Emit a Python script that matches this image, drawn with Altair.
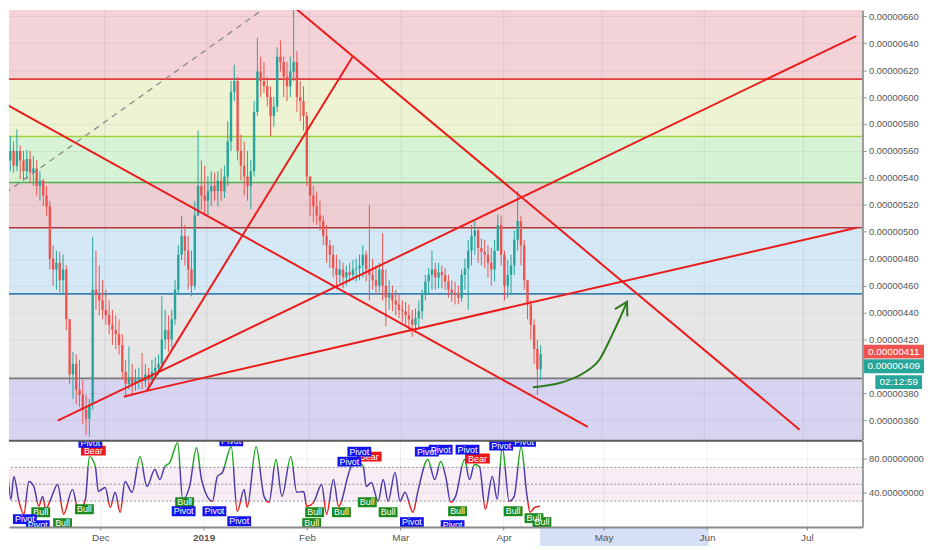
import altair as alt
import pandas as pd

START = pd.Timestamp("2018-11-01", tz="UTC")


def t_iso(d):
    return (START + pd.to_timedelta(d, unit="D")).strftime("%Y-%m-%dT%H:%M:%SZ")


def t_ms(d):
    return int((START + pd.to_timedelta(d, unit="D")).value // 10**6)


# ---------------- data (prices in 1e-8 units, days counted from 2018-11-01) ----------------
candle_high = [567, 571, 567, 576, 564, 560, 561, 560, 556, 553,
               545, 539, 534, 523, 490, 486, 485, 483, 475, 435,
               411, 409, 405, 390, 379, 376, 496, 486, 475, 464,
               457, 449, 442, 438, 435, 424, 405, 415, 402, 398,
               399, 410, 402, 399, 405, 407, 409, 452, 442, 438,
               442, 464, 490, 512, 505, 497, 486, 523, 575, 553,
               549, 541, 545, 544, 545, 547, 549, 582, 612, 624,
               615, 572, 567, 560, 553, 597, 644, 630, 626, 615,
               608, 600, 637, 642, 630, 626, 630, 667, 634, 612,
               608, 589, 541, 534, 530, 523, 512, 505, 494, 490,
               483, 479, 477, 475, 477, 479, 480, 483, 490, 486,
               520, 480, 475, 477, 499, 472, 464, 460, 457, 453,
               449, 448, 446, 442, 443, 449, 457, 468, 473, 486,
               477, 477, 475, 473, 468, 464, 463, 460, 472, 480,
               494, 505, 508, 502, 495, 494, 490, 488, 494, 513,
               512, 486, 479, 483, 501, 530, 512, 494, 464, 449,
               435, 420, 416]
candle_low = [541, 545, 544, 545, 539, 538, 539, 536, 534, 527,
              523, 519, 512, 472, 460, 457, 455, 453, 427, 387,
              376, 372, 370, 357, 349, 348, 368, 442, 438, 435,
              431, 424, 416, 413, 409, 390, 378, 383, 379, 382,
              383, 383, 385, 383, 387, 392, 394, 396, 413, 411,
              414, 431, 453, 479, 475, 457, 452, 457, 512, 516,
              512, 512, 519, 523, 519, 523, 525, 534, 560, 597,
              553, 538, 527, 523, 517, 541, 586, 600, 603, 593,
              571, 578, 589, 619, 600, 597, 600, 612, 589, 582,
              575, 534, 512, 507, 505, 501, 490, 477, 473, 466,
              460, 462, 458, 460, 463, 464, 463, 464, 466, 463,
              449, 457, 453, 455, 449, 430, 442, 441, 438, 436,
              433, 431, 427, 422, 425, 429, 435, 449, 453, 457,
              457, 458, 458, 457, 451, 448, 446, 446, 448, 457,
              442, 475, 483, 477, 475, 473, 466, 460, 463, 486,
              475, 449, 451, 453, 468, 486, 475, 457, 435, 420,
              402, 379, 390]
candle_close = [553, 560, 549, 560, 553, 545, 554, 544, 547, 534,
                538, 527, 519, 480, 472, 477, 464, 472, 435, 394,
                402, 383, 379, 368, 361, 372, 457, 453, 449, 442,
                438, 431, 427, 424, 416, 396, 387, 392, 387, 390,
                392, 389, 394, 390, 396, 399, 402, 420, 427, 420,
                435, 457, 483, 497, 486, 472, 460, 512, 534, 527,
                523, 530, 534, 530, 538, 530, 541, 567, 604, 612,
                560, 549, 541, 534, 545, 589, 619, 612, 608, 600,
                586, 593, 630, 626, 615, 608, 619, 626, 600, 597,
                586, 541, 527, 519, 512, 508, 497, 490, 483, 473,
                468, 472, 466, 470, 468, 472, 473, 475, 483, 472,
                468, 464, 460, 472, 460, 451, 453, 449, 446, 442,
                441, 438, 435, 431, 436, 441, 453, 463, 468, 472,
                466, 470, 468, 463, 457, 455, 453, 451, 468, 473,
                486, 497, 501, 488, 485, 483, 477, 472, 486, 505,
                483, 460, 468, 475, 494, 508, 490, 464, 446, 431,
                413, 398, 409]
first_open = 548

fib_levels = [613.3, 570.7, 536.6, 503.0, 453.9, 391.2]
fib_colors = ["#e03a3a", "#a4cf3c", "#4cae4c", "#b03838", "#3a80b4", "#7b7b7b"]
band_edges = [700, 613.3, 570.7, 536.6, 503.0, 453.9, 391.2, 300]
band_colors = ["#f3d3d7", "#eef3d4", "#d7f3d6", "#ecced3", "#d4e8f5", "#e6e6e6", "#d7d4f1"]

trend_id = ["a", "a", "b", "b", "c", "c", "d", "d", "e", "e", "f", "f"]
trend_day = [-5.73, 176.8, 86.78, 241.1, 42.9, 105.4, 35.95, 42.9, 42.9, 258.4, 15.9, 258.3]
trend_price = [602.7, 355.1, 668.5, 353.1, 381.9, 630.0, 377.5, 381.9, 381.9, 503.0, 359.8, 645.3]

dash_day = [-2.75, 79.6]
dash_price = [524.1, 667.6]

arrow_day = [160.12, 169.05, 175.9, 180.36, 183.94, 186.6, 188.7]
arrow_price = [384.6, 388.3, 395.7, 405.2, 422.2, 436.2, 448.0]
head_day = [185.04, 188.7, 188.8]
head_price = [442.6, 448.0, 437.2]

marker_price = 411
last_close = 409
timer_text = "02:12:59"

rsi_day = [0.22, 1.71, 3.20, 4.09, 5.58, 7.07, 8.56, 10.05, 11.54, 12.73,
           13.62, 15.11, 17.2, 18.98, 21.66, 23.45, 25.53, 26.72, 28.51, 29.40,
           31.49, 32.98, 34.47, 35.95, 37.44, 39.53, 41.91, 43.99, 46.37, 47.86,
           49.35, 50.84, 53.22, 54.71, 56.80, 58.88, 60.37, 63.64, 65.13, 66.62,
           69.30, 71.09, 73.17, 74.07, 76.75, 79.13, 80.62, 82.70, 84.49, 87.17,
           88.95, 91.04, 91.93, 94.02, 96.40, 97.89, 99.97, 101.46, 105.33, 107.42,
           108.90, 109.80, 111.29, 113.37, 114.86, 116.35, 118.43, 119.92, 121.41, 123.79,
           125.28, 128.26, 130.34, 132.13, 133.62, 135.11, 136.60, 139.28, 140.77, 142.26,
           143.75, 145.53, 147.61, 149.10, 150.59, 152.68, 154.17, 156.25, 158.04, 158.93,
           160.42, 161.91]
rsi_val = [55.6, 75.6, 32.1, 59.2, 29.8, 14.5, 53.3, 47.4, 23.9, 35.6,
           20.4, 32.1, 49.8, 14.5, 43.9, 18.0, 32.1, 82.7, 70.9, 41.5,
           46.2, 22.7, 40.4, 16.8, 53.3, 40.4, 82.7, 47.4, 67.4, 55.6,
           70.9, 75.6, 99.2, 32.1, 47.4, 93.3, 55.6, 29.8, 59.2, 63.9,
           94.5, 18.0, 43.9, 22.7, 94.5, 35.6, 28.6, 79.2, 35.6, 82.7,
           40.4, 41.5, 23.9, 28.6, 49.8, 14.5, 55.6, 23.9, 70.9, 75.6,
           70.9, 47.4, 52.1, 29.8, 55.6, 29.8, 63.9, 29.8, 40.4, 16.8,
           41.5, 79.2, 55.6, 76.8, 59.2, 28.6, 35.6, 79.2, 55.6, 73.3,
           70.9, 20.4, 59.2, 32.1, 94.5, 29.8, 35.6, 94.5, 35.6, 16.8,
           22.7, 23.9]

lab_kind = ["Pivot", "Pivot", "Bull", "Bull", "Bull", "Pivot", "Bear", "Bull", "Pivot", "Pivot",
            "Pivot", "Pivot", "Bull", "Bull", "Bull", "Bear", "Pivot", "Pivot", "Bull", "Bull",
            "Pivot", "Pivot", "Pivot", "Pivot", "Bear", "Bull", "Pivot", "Pivot", "Pivot", "Bull",
            "Bull", "Bull"]
lab_day = [7.37, 11.24, 12.13, 18.68, 25.23, 27.02, 27.91, 55.31, 55.01, 64.24,
           69.30, 71.68, 94.31, 93.42, 102.35, 110.69, 107.71, 104.73, 110.10, 116.35,
           123.49, 127.96, 132.13, 140.17, 143.15, 137.19, 135.70, 150.29, 157.14, 153.86,
           160.12, 162.50]
lab_val = [8.6, 1.5, 16.8, 3.9, 20.4, 99.2, 89.8, 28.6, 18.0, 18.0,
           101.0, 6.2, 16.8, 3.9, 16.8, 82.7, 88.6, 76.8, 28.6, 16.8,
           5.1, 88.6, 91.0, 91.0, 80.4, 18.0, 1.5, 95.7, 100.4, 18.0,
           9.8, 5.1]

month_ticks = ["2018-12-01", "2019-01-01", "2019-02-01", "2019-03-01",
               "2019-04-01", "2019-05-01", "2019-06-01", "2019-07-01"]
price_ticks = [360, 380, 420, 440, 460, 480, 500, 520, 540, 560, 580, 600, 620, 640, 660]
rsi_ticks = [40, 80]
rsi_levels = [70, 50, 30]
highlight_days = [161.9, 212.5]

# ---------------- layout constants ----------------
W = 860
H_MAIN = 433
H_IND = 87
FONT = "Liberation Sans"

month_ms = [int(pd.Timestamp(s, tz="UTC").value // 10**6) for s in month_ticks]
x_dom = [t_ms(2.607), t_ms(258.67)]

xs = alt.Scale(type="utc", domain=x_dom, nice=False)
ys = alt.Scale(domain=[345.6, 664.6], nice=False, zero=False)
ys2 = alt.Scale(domain=[-0.8, 101.5], nice=False, zero=False)

main_x_axis = alt.Axis(values=month_ms, labels=False, ticks=False, domain=False, title=None,
                       grid=True, gridColor="#000000", gridOpacity=0.07, zindex=1)
main_y_axis = alt.Axis(orient="right", values=price_ticks,
                       labelExpr="format(datum.value / 100000000, '.8f')",
                       title=None, labelFont=FONT, labelFontSize=9.5, labelColor="#555555",
                       tickColor="#9a9a9a", tickSize=4, labelPadding=2,
                       domainColor="#9a9a9a", domainWidth=2,
                       grid=True, gridColor="#000000", gridOpacity=0.06,
                       labelOverlap=False, zindex=1)
ind_x_axis = alt.Axis(values=month_ms,
                      labelExpr="utcFormat(datum.value, '%m') == '01' ? utcFormat(datum.value, '%Y') : utcFormat(datum.value, '%b')",
                      labelFontWeight=alt.condition("utcFormat(datum.value, '%m') == '01'",
                                                    alt.value("bold"), alt.value("normal")),
                      title=None, labelFont=FONT, labelFontSize=10, labelColor="#555555",
                      tickColor="#888888", tickSize=3, labelPadding=3,
                      domainColor="#8a8a8a", domainWidth=2,
                      grid=True, gridColor="#000000", gridOpacity=0.07,
                      labelOverlap=False, labelFlush=False, zindex=1)
ind_y_axis = alt.Axis(orient="right", values=rsi_ticks, format=".8f", title=None,
                      labelFont=FONT, labelFontSize=9.5, labelColor="#555555",
                      tickColor="#9a9a9a", tickSize=4, labelPadding=2,
                      domainColor="#9a9a9a", domainWidth=2,
                      grid=True, gridColor="#000000", gridOpacity=0.07,
                      labelOverlap=False, zindex=1)


def X(field):
    return alt.X(field, scale=xs, axis=main_x_axis)


def Y(field):
    return alt.Y(field, scale=ys, axis=main_y_axis)


# ---------------- main price panel ----------------
bands_df = pd.DataFrame({"hi": band_edges[:-1], "lo": band_edges[1:], "col": band_colors})
bands = alt.Chart(bands_df).mark_rect(clip=True).encode(
    x=alt.value(0), x2=alt.value(W),
    y=Y("hi:Q"), y2="lo:Q",
    fill=alt.Fill("col:N", scale=None))

fib_df = pd.DataFrame({"lvl": fib_levels, "col": fib_colors})
fibs = alt.Chart(fib_df).mark_rule(clip=True, strokeWidth=1.6).encode(
    y=Y("lvl:Q"), stroke=alt.Stroke("col:N", scale=None))

opens = [first_open] + candle_close[:-1]
cdf = pd.DataFrame({
    "t": [t_iso(i + 0.5) for i in range(len(candle_close))],
    "o": opens, "h": candle_high, "l": candle_low, "c": candle_close,
})
cdf["dir"] = ["up" if c >= o else "down" for o, c in zip(cdf["o"], cdf["c"])]
cscale = alt.Scale(domain=["up", "down"], range=["#26a69a", "#ef5350"])
wicks = alt.Chart(cdf).mark_rule(clip=True, strokeWidth=1).encode(
    x=X("t:T"), y=Y("l:Q"), y2="h:Q",
    color=alt.Color("dir:N", scale=cscale, legend=None))
bodies = alt.Chart(cdf).mark_bar(clip=True, size=2.4).encode(
    x=X("t:T"), y=Y("o:Q"), y2="c:Q",
    color=alt.Color("dir:N", scale=cscale, legend=None))

tdf = pd.DataFrame({"id": trend_id, "t": [t_iso(d) for d in trend_day], "p": trend_price})
trends = alt.Chart(tdf).mark_line(clip=True, color="#ec1c1c", strokeWidth=2).encode(
    x=X("t:T"), y=Y("p:Q"), detail="id:N")

ddf = pd.DataFrame({"t": [t_iso(d) for d in dash_day], "p": dash_price})
dashed = alt.Chart(ddf).mark_line(clip=True, color="#8a8a8a", strokeWidth=1.3,
                                  strokeDash=[6, 5]).encode(x=X("t:T"), y=Y("p:Q"))

adf = pd.DataFrame({"t": [t_iso(d) for d in arrow_day], "p": arrow_price})
arrow = alt.Chart(adf).mark_line(clip=True, color="#2e7a1e", strokeWidth=2,
                                 interpolate="monotone").encode(x=X("t:T"), y=Y("p:Q"))
hdf = pd.DataFrame({"t": [t_iso(d) for d in head_day], "p": head_price, "i": [0, 1, 2]})
head = alt.Chart(hdf).mark_line(clip=True, color="#2e7a1e", strokeWidth=2).encode(
    x=X("t:T"), y=Y("p:Q"), order=alt.Order("i:Q"))

price_layers = []
box_specs = [
    (marker_price, format(marker_price / 1e8, ".8f"), "#ef5350", 0, 891.5, 61),
    (last_close, format(last_close / 1e8, ".8f"), "#26a69a", 12, 891.5, 61),
    (last_close, timer_text, "#26a69a", 28, 896.5, 47),
]
for price, txt, col, dy, xc, bw in box_specs:
    hh = 7.0 / (bw / 2.0)
    path = f"M-1,-{hh:.4f}L1,-{hh:.4f}L1,{hh:.4f}L-1,{hh:.4f}Z"
    pdf = pd.DataFrame({"p": [price], "txt": [txt]})
    price_layers.append(
        alt.Chart(pdf).mark_point(shape=path, size=bw * bw, filled=True, opacity=1,
                                  color=col, strokeWidth=0, yOffset=dy).encode(
            x=alt.value(xc), y=Y("p:Q")))
    price_layers.append(
        alt.Chart(pdf).mark_text(color="white", font=FONT, fontSize=10, yOffset=dy,
                                 align="center", baseline="middle").encode(
            x=alt.value(xc), y=Y("p:Q"), text="txt:N"))

main = alt.layer(bands, fibs, wicks, bodies, trends, dashed, arrow, head,
                 *price_layers).properties(width=W, height=H_MAIN)


# ---------------- RSI panel ----------------
def X2(field):
    return alt.X(field, scale=xs, axis=ind_x_axis)


def Y2(field):
    return alt.Y(field, scale=ys2, axis=ind_y_axis)


band_df = pd.DataFrame({"hi": [rsi_levels[0]], "lo": [rsi_levels[-1]]})
rsi_band = alt.Chart(band_df).mark_rect(color="#f8edf5").encode(
    x=alt.value(0), x2=alt.value(W), y=Y2("hi:Q"), y2="lo:Q")

lvl_df = pd.DataFrame({"v": rsi_levels})
rsi_lvls = alt.Chart(lvl_df).mark_rule(color="#8f8f8f", strokeDash=[2, 2], strokeWidth=1).encode(
    y=Y2("v:Q"))

vmax, vmin = max(rsi_val), min(rsi_val)
o70 = (vmax - rsi_levels[0]) / (vmax - vmin)
o30 = (vmax - rsi_levels[-1]) / (vmax - vmin)
grad = alt.LinearGradient(
    gradient="linear", x1=0, x2=0, y1=0, y2=1,
    stops=[alt.GradientStop(color="#22a722", offset=0),
           alt.GradientStop(color="#22a722", offset=o70),
           alt.GradientStop(color="#4e3caa", offset=o70),
           alt.GradientStop(color="#4e3caa", offset=o30),
           alt.GradientStop(color="#e82020", offset=o30),
           alt.GradientStop(color="#e82020", offset=1)])
rdf = pd.DataFrame({"t": [t_iso(d) for d in rsi_day], "v": rsi_val})
rsi_line = alt.Chart(rdf).mark_line(clip=True, color=grad, strokeWidth=1.5,
                                    interpolate="monotone").encode(x=X2("t:T"), y=Y2("v:Q"))

ldf = pd.DataFrame({"kind": lab_kind, "t": [t_iso(d) for d in lab_day], "v": lab_val})
kinds = ["Pivot", "Bull", "Bear"]
shapes = ["M-0.96,-0.4L0.96,-0.4L0.96,0.4L-0.96,0.4Z",
          "M-0.76,-0.4L0.76,-0.4L0.76,0.4L-0.76,0.4Z",
          "M-1,-0.4L1,-0.4L1,0.4L-1,0.4Z"]
kcolors = ["#1414ee", "#1c8a1c", "#ee1616"]
shape_scale = alt.Scale(domain=kinds, range=shapes)
fill_scale = alt.Scale(domain=kinds, range=kcolors)


def label_layers(df):
    boxes = alt.Chart(df).mark_point(filled=True, opacity=1, size=625, strokeWidth=0,
                                     clip=True).encode(
        x=X2("t:T"), y=Y2("v:Q"),
        shape=alt.Shape("kind:N", scale=shape_scale, legend=None),
        fill=alt.Fill("kind:N", scale=fill_scale, legend=None))
    texts = alt.Chart(df).mark_text(color="white", font=FONT, fontSize=9, clip=True,
                                    align="center", baseline="middle").encode(
        x=X2("t:T"), y=Y2("v:Q"), text="kind:N")
    return [boxes, texts]


bb_layers = label_layers(ldf[ldf["kind"] != "Pivot"])
pv_layers = label_layers(ldf[ldf["kind"] == "Pivot"])

sep = alt.Chart(pd.DataFrame({"a": [0]})).mark_rule(color="#5a5a5a", strokeWidth=2).encode(
    y=alt.value(0))

hl_df = pd.DataFrame({"t0": [t_iso(highlight_days[0])], "t1": [t_iso(highlight_days[1])]})
highlight = alt.Chart(hl_df).mark_rect(color="#d5dff5").encode(
    x=X2("t0:T"), x2="t1:T", y=alt.value(H_IND + 1), y2=alt.value(H_IND + 19))

ind = alt.layer(rsi_band, rsi_lvls, rsi_line, *bb_layers, *pv_layers, highlight,
                sep).properties(width=W, height=H_IND)

chart = alt.vconcat(main, ind, spacing=0).resolve_scale(
    x="independent", y="independent", color="independent", fill="independent",
    shape="independent", stroke="independent"
).properties(padding=0, background="white").configure_view(stroke=None)

chart.save("out.html", embed_options={"renderer": "svg", "actions": False})
